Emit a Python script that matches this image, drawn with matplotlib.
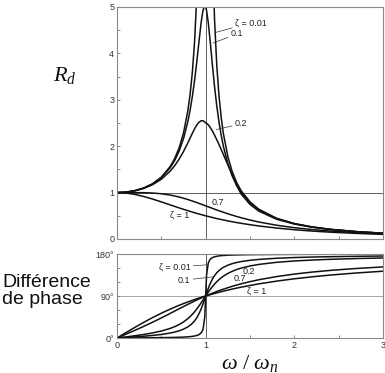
import matplotlib
matplotlib.use("Agg")
import matplotlib.pyplot as plt
from matplotlib.ticker import MultipleLocator

# frequency ratio omega / omega_n
r = [0, 0.1, 0.2, 0.3, 0.4, 0.5, 0.6, 0.65, 0.7, 0.75,
     0.8, 0.825, 0.85, 0.875, 0.9, 0.925, 0.95, 0.97, 0.99, 1.0,
     1.01, 1.03, 1.05, 1.075, 1.1, 1.125, 1.15, 1.175, 1.2, 1.25,
     1.3, 1.35, 1.4, 1.5, 1.6, 1.8, 2.0, 2.2, 2.4, 2.7, 3.0]

# amplitude ratio R_d for each damping ratio
rd_001 = [1.000, 1.010, 1.042, 1.099, 1.190, 1.333, 1.562, 1.732, 1.961, 2.284,
          2.775, 3.127, 3.597, 4.255, 5.240, 6.870, 10.07, 16.08, 35.6, 50.0,
          35.1, 15.55, 9.558, 6.365, 4.736, 3.751, 3.093, 2.622, 2.269, 1.776,
          1.448, 1.215, 1.041, 0.800, 0.641, 0.446, 0.333, 0.260, 0.210, 0.159, 0.125]
rd_01 = [1.000, 1.010, 1.041, 1.097, 1.185, 1.322, 1.536, 1.689, 1.891, 2.162,
         2.538, 2.782, 3.073, 3.419, 3.821, 4.261, 4.683, 4.931, 5.025, 5.000,
         4.926, 4.655, 4.279, 3.768, 3.288, 2.873, 2.525, 2.236, 1.995, 1.625,
         1.356, 1.155, 1.000, 0.778, 0.628, 0.441, 0.330, 0.259, 0.209, 0.158, 0.125]
rd_02 = [1.000, 1.009, 1.038, 1.089, 1.169, 1.288, 1.463, 1.579, 1.719, 1.885,
         2.076, 2.178, 2.279, 2.374, 2.457, 2.518, 2.549, 2.548, 2.522, 2.500,
         2.495, 2.460, 2.410, 2.330, 2.240, 2.140, 2.040, 1.930, 1.820, 1.600,
         1.380, 1.150, 0.970, 0.745, 0.600, 0.425, 0.322, 0.254, 0.206, 0.157, 0.124]
rd_07 = [1.000, 1.000, 1.000, 0.998, 0.991, 0.975, 0.947, 0.928, 0.905, 0.879,
         0.850, 0.834, 0.818, 0.802, 0.785, 0.767, 0.750, 0.736, 0.721, 0.714,
         0.707, 0.693, 0.679, 0.661, 0.643, 0.626, 0.609, 0.592, 0.576, 0.544,
         0.514, 0.485, 0.458, 0.409, 0.366, 0.297, 0.244, 0.203, 0.172, 0.136, 0.111]
rd_1 = [1.000, 0.990, 0.962, 0.917, 0.862, 0.800, 0.735, 0.703, 0.671, 0.640,
        0.610, 0.595, 0.581, 0.566, 0.552, 0.539, 0.526, 0.515, 0.505, 0.500,
        0.495, 0.485, 0.476, 0.464, 0.452, 0.441, 0.431, 0.420, 0.410, 0.390,
        0.372, 0.354, 0.338, 0.308, 0.281, 0.236, 0.200, 0.171, 0.148, 0.121, 0.100]

# phase difference (degrees)
ph_001 = [0, 0.12, 0.24, 0.38, 0.55, 0.76, 1.07, 1.29, 1.57, 1.96,
          2.55, 2.96, 3.51, 4.27, 5.41, 7.30, 11.03, 18.17, 44.86, 90,
          134.86, 161.31, 168.42, 172.13, 174.02, 175.16, 175.92, 176.47, 176.88, 177.46,
          177.84, 178.12, 178.33, 178.63, 178.82, 179.08, 179.24, 179.34, 179.42, 179.51, 179.57]
ph_01 = [0, 1.16, 2.39, 3.77, 5.44, 7.60, 10.62, 12.69, 15.35, 18.92,
         23.96, 27.32, 31.49, 36.75, 43.45, 52.03, 62.84, 73.06, 84.26, 90,
         95.68, 106.47, 116.01, 125.90, 133.67, 139.73, 144.50, 148.31, 151.39, 156.04,
         159.36, 161.83, 163.74, 166.50, 168.41, 170.87, 172.41, 173.46, 174.24, 175.09, 175.71]
ph_02 = [0, 2.31, 4.76, 7.51, 10.78, 14.93, 20.56, 24.24, 28.77, 34.44,
         41.63, 45.94, 50.78, 56.19, 62.18, 68.69, 75.61, 81.34, 87.12, 90,
         92.85, 98.41, 103.71, 109.90, 115.51, 120.56, 125.03, 129.00, 132.51, 138.37,
         143.00, 146.71, 149.74, 154.36, 157.69, 162.18, 165.07, 167.09, 168.60, 170.26, 171.47]
ph_07 = [0, 8.05, 16.26, 24.78, 33.69, 43.03, 52.70, 57.60, 62.50, 67.38,
         72.18, 74.54, 76.87, 79.17, 81.42, 83.64, 85.81, 87.51, 89.18, 90,
         90.81, 92.42, 93.99, 95.90, 97.77, 99.57, 101.33, 103.03, 104.68, 107.82,
         110.76, 113.52, 116.09, 120.76, 124.86, 131.63, 136.97, 141.27, 144.78, 148.99, 152.30]
ph_1 = [0, 11.42, 22.62, 33.40, 43.60, 53.13, 61.93, 66.04, 70.00, 73.74,
        77.32, 79.04, 80.73, 82.37, 83.97, 85.54, 87.06, 88.26, 89.42, 90,
        90.57, 91.69, 92.79, 94.14, 95.45, 96.73, 97.98, 99.20, 100.39, 102.68,
        104.86, 106.94, 108.92, 112.62, 115.99, 121.89, 126.87, 131.11, 134.76, 139.35, 143.13]

amp_series = [rd_001, rd_01, rd_02, rd_07, rd_1]
phase_series = [ph_001, ph_01, ph_02, ph_07, ph_1]

x_ticks = [0, 1, 2, 3]
x_ticklabels = ["0", "1", "2", "3"]
amp_ticks = [0, 1, 2, 3, 4, 5]
amp_ticklabels = ["0", "1", "2", "3", "4", "5"]
ph_ticks = [0, 90, 180]
ph_ticklabels = ["0°", "90°", "180°"]

plt.rcParams["mathtext.fontset"] = "custom"
plt.rcParams["mathtext.rm"] = "Liberation Serif"
plt.rcParams["mathtext.it"] = "Liberation Serif:italic"
plt.rcParams["font.family"] = ["Liberation Sans", "DejaVu Sans"]

W, H = 385, 373
fig = plt.figure(figsize=(W / 100, H / 100), dpi=100)
ax1 = fig.add_axes([117 / W, (H - 239) / H, (383 - 117) / W, (239 - 7) / H])
ax2 = fig.add_axes([117 / W, (H - 338) / H, (383 - 117) / W, (338 - 254) / H])

line_kw = dict(color="#111111", lw=1.1, solid_capstyle="round", solid_joinstyle="round")
for s in amp_series:
    ax1.plot(r, s, **line_kw)
for s in phase_series:
    ax2.plot(r, s, **line_kw)

ax1.axhline(1, color="#444444", lw=0.6, zorder=0)
ax1.axvline(1, color="#444444", lw=0.6, zorder=0)
ax2.axhline(90, color="#999999", lw=0.6, zorder=0)
ax2.axvline(1, color="#444444", lw=0.6, zorder=0)

ax1.set_xlim(0, 3)
ax1.set_ylim(0, 5)
ax2.set_xlim(0, 3)
ax2.set_ylim(0, 180)

for ax in (ax1, ax2):
    ax.set_xticks(x_ticks)
    ax.xaxis.set_minor_locator(MultipleLocator(0.5))
    for sp in ax.spines.values():
        sp.set_color("#8a8a8a")
        sp.set_linewidth(0.8)
    ax.tick_params(which="both", direction="in", color="#777777", width=0.6,
                   labelsize=6.5, labelcolor="#333333", pad=2)
    ax.tick_params(which="major", length=2.5)
    ax.tick_params(which="minor", length=2)

ax1.set_xticklabels([])
ax1.set_yticks(amp_ticks)
ax1.set_yticklabels(amp_ticklabels)
ax1.yaxis.set_minor_locator(MultipleLocator(0.5))
ax2.set_xticklabels(x_ticklabels)
ax2.set_yticks(ph_ticks)
ax2.set_yticklabels(ph_ticklabels)
ax2.yaxis.set_minor_locator(MultipleLocator(30))

lab = dict(fontsize=6.5, color="#222222", va="center")
arr = dict(arrowstyle="-", lw=0.5, color="#333333", shrinkA=0, shrinkB=0)

# top panel labels
ax1.annotate("ζ = 0.01", xy=(1.11, 4.45), xytext=(1.33, 4.66), arrowprops=arr, ha="left", **lab)
ax1.annotate("0.1", xy=(1.08, 4.22), xytext=(1.28, 4.42), arrowprops=arr, ha="left", **lab)
ax1.annotate("0.2", xy=(1.12, 2.36), xytext=(1.33, 2.48), arrowprops=arr, ha="left", **lab)
ax1.text(1.07, 0.78, "0.7", ha="left", **lab)
ax1.text(0.60, 0.52, "ζ = 1", ha="left", **lab)

# bottom panel labels
ax2.annotate("ζ = 0.01", xy=(1.03, 157), xytext=(0.83, 152), arrowprops=arr, ha="right", **lab)
ax2.annotate("0.1", xy=(1.08, 131), xytext=(0.83, 124), arrowprops=arr, ha="right", **lab)
ax2.text(1.42, 142, "0.2", ha="left", **lab)
ax2.text(1.31, 127, "0.7", ha="left", **lab)
ax2.text(1.47, 100, "ζ = 1", ha="left", **lab)

# axis titles
fig.text(65 / W, 1 - 75 / H, r"$R_d$", fontsize=16, ha="center", va="center", color="#111111")
fig.text(2 / W, 1 - 291 / H, "Différence\nde phase", fontsize=14, ha="left", va="center",
         linespacing=1.05, color="#111111")
fig.text(250 / W, 1 - 364 / H, r"$\omega\ /\ \omega_n$", fontsize=16, ha="center", va="center",
         color="#111111")

fig.savefig("out.png", dpi=100)
